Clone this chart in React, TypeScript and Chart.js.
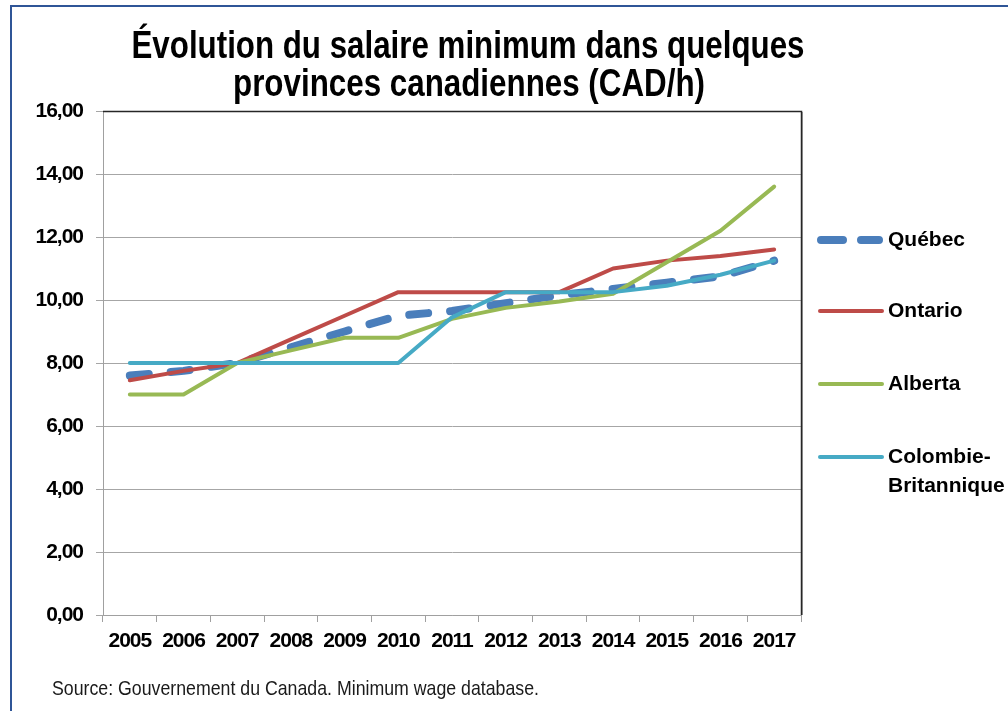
import React, { useEffect, useRef } from "react";
import { Chart, registerables } from "chart.js";

Chart.register(...registerables);

const categories = ["2005", "2006", "2007", "2008", "2009", "2010", "2011", "2012", "2013", "2014", "2015", "2016", "2017"];
const quebec = [7.6, 7.75, 8.0, 8.5, 9.0, 9.5, 9.65, 9.9, 10.15, 10.35, 10.55, 10.75, 11.25];
const ontario = [7.45, 7.75, 8.0, 8.75, 9.5, 10.25, 10.25, 10.25, 10.25, 11.0, 11.25, 11.4, 11.6];
const alberta = [7.0, 7.0, 8.0, 8.4, 8.8, 8.8, 9.4, 9.75, 9.95, 10.2, 11.2, 12.2, 13.6];
const colombieBritannique = [8.0, 8.0, 8.0, 8.0, 8.0, 8.0, 9.45, 10.25, 10.25, 10.25, 10.45, 10.8, 11.25];
const yTickLabels = ["0,00", "2,00", "4,00", "6,00", "8,00", "10,00", "12,00", "14,00", "16,00"];
const titleLines = ["Évolution du salaire minimum dans quelques", "provinces canadiennes (CAD/h)"];
const sourceText = "Source: Gouvernement du Canada. Minimum wage database.";
const legendLabels = [["Québec"], ["Ontario"], ["Alberta"], ["Colombie-", "Britannique"]];

const FONT = "'Liberation Sans', Arial, sans-serif";

const condensePlugin = {
  id: "condense",
  beforeDraw(chart: any) {
    try { chart.ctx.letterSpacing = "-1px"; } catch (e) {}
  },
  afterDatasetsDraw(chart: any) {
    try { chart.ctx.letterSpacing = "0px"; } catch (e) {}
  },
};

const decorPlugin = {
  id: "decor",
  afterDraw(chart: any) {
    const ctx = chart.ctx;
    const a = chart.chartArea;
    ctx.save();
    try { ctx.letterSpacing = "0px"; } catch (e) {}
    // plot area top/right outline
    ctx.strokeStyle = "#A6A6A6";
    ctx.lineWidth = 1;
    ctx.beginPath();
    ctx.moveTo(a.right + 1.5, a.top + 1);
    ctx.lineTo(a.right + 1.5, a.bottom);
    ctx.stroke();
    ctx.strokeStyle = "#262626";
    ctx.lineWidth = 1.5;
    ctx.beginPath();
    ctx.moveTo(a.left, a.top + 0.5);
    ctx.lineTo(a.right + 0.5, a.top + 0.5);
    ctx.lineTo(a.right + 0.5, a.bottom);
    ctx.stroke();

    // title
    ctx.fillStyle = "#000";
    ctx.font = `bold 38px ${FONT}`;
    ctx.textAlign = "center";
    ctx.textBaseline = "middle";
    ctx.fillText(titleLines[0], 468, 48, 673);
    ctx.fillText(titleLines[1], 469, 86, 472);

    // source
    ctx.font = `21px ${FONT}`;
    ctx.textAlign = "left";
    ctx.fillStyle = "#1a1a1a";
    ctx.fillText(sourceText, 52, 689, 487);

    // legend
    const ys = [240, 311, 384, 457];
    const ds = chart.data.datasets;
    ds.forEach((d: any, i: number) => {
      const y = ys[i];
      ctx.strokeStyle = d.borderColor;
      ctx.lineCap = "round";
      if (i === 0) {
        ctx.lineWidth = 8;
        ctx.setLineDash([22, 18]);
        ctx.beginPath();
        ctx.moveTo(821, y);
        ctx.lineTo(879, y);
        ctx.stroke();
        ctx.setLineDash([]);
      } else {
        ctx.lineWidth = 4;
        ctx.beginPath();
        ctx.moveTo(820, y);
        ctx.lineTo(882, y);
        ctx.stroke();
      }
      ctx.fillStyle = "#000";
      ctx.font = `bold 21px ${FONT}`;
      ctx.textAlign = "left";
      ctx.textBaseline = "middle";
      legendLabels[i].forEach((t, k) => ctx.fillText(t, 888, y + k * 29));
    });
    ctx.restore();
  },
};

export default function App() {
  const ref = useRef<HTMLCanvasElement | null>(null);
  useEffect(() => {
    if (!ref.current) return;
    const tickFont = { family: FONT, weight: "bold" as const, size: 21 };
    const chart = new Chart(ref.current, {
      type: "line",
      data: {
        labels: categories,
        datasets: [
          { label: "Québec", data: quebec, borderColor: "#4A7EBB", borderWidth: 8, borderDash: [19, 22], borderCapStyle: "round", borderJoinStyle: "round", pointRadius: 0, order: 4, tension: 0 },
          { label: "Ontario", data: ontario, borderColor: "#BE4B48", borderWidth: 4, borderCapStyle: "round", borderJoinStyle: "round", pointRadius: 0, order: 3, tension: 0 },
          { label: "Alberta", data: alberta, borderColor: "#98B954", borderWidth: 4, borderCapStyle: "round", borderJoinStyle: "round", pointRadius: 0, order: 2, tension: 0 },
          { label: "Colombie-Britannique", data: colombieBritannique, borderColor: "#46AAC5", borderWidth: 4, borderCapStyle: "round", borderJoinStyle: "round", pointRadius: 0, order: 1, tension: 0 },
        ],
      },
      options: {
        responsive: false,
        animation: false,
        layout: { padding: { left: 0, top: 111, right: 207, bottom: 46 } },
        plugins: { legend: { display: false }, title: { display: false }, tooltip: { enabled: false } },
        scales: {
          x: {
            type: "category",
            offset: true,
            grid: { offset: true, drawOnChartArea: false, drawTicks: true, tickLength: 7, color: "#A0A0A0" },
            border: { color: "#A0A0A0", width: 1 },
            ticks: { color: "#000", font: tickFont, padding: 7, maxRotation: 0, autoSkip: false },
            afterFit: (s: any) => { s.height = 50; },
          },
          y: {
            min: 0,
            max: 16,
            ticks: { stepSize: 2, color: "#000", font: tickFont, padding: 13, callback: (_v: any, i: number) => yTickLabels[i] },
            grid: { color: "#A6A6A6", tickLength: 7 },
            border: { color: "#A0A0A0", width: 1 },
            afterFit: (s: any) => { s.width = 103; },
          },
        },
      },
      plugins: [condensePlugin, decorPlugin],
    });
    return () => chart.destroy();
  }, []);
  return (
    <div style={{ position: "fixed", left: 0, top: 0, width: 1008, height: 711, overflow: "hidden", background: "#fff" }}>
      <div style={{ position: "absolute", left: 10, top: 5, width: 1100, height: 800, borderLeft: "2px solid #2F5597", borderTop: "2px solid #2F5597" }} />
      <canvas ref={ref} width={1008} height={711} style={{ position: "absolute", left: 0, top: 0 }} />
    </div>
  );
}
